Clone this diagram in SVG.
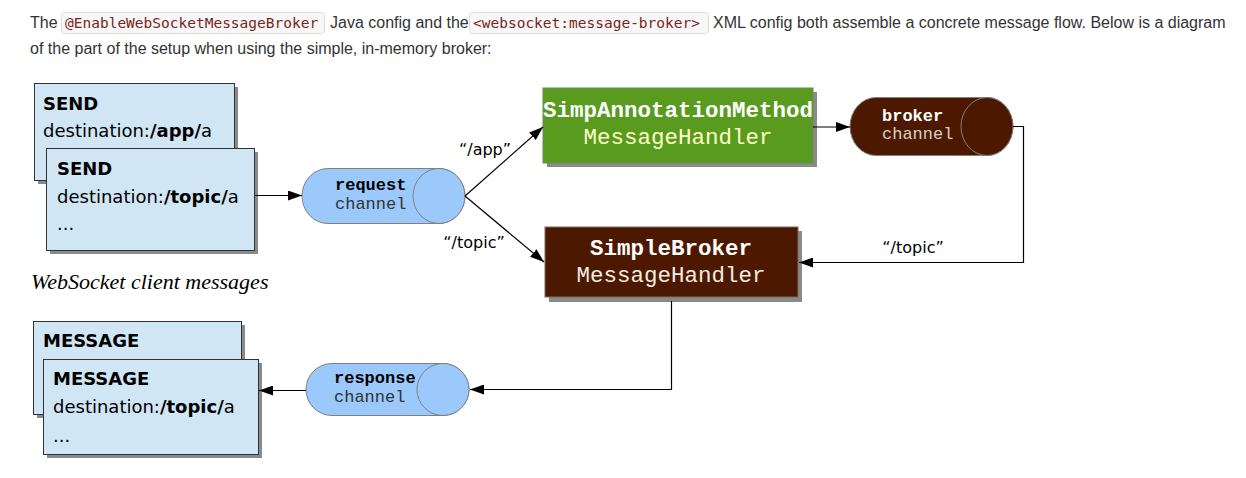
<svg xmlns="http://www.w3.org/2000/svg" width="1246" height="478" viewBox="0 0 1246 478">
<defs>
<marker id="arr" viewBox="0 0 14 10" refX="14" refY="5" markerWidth="14" markerHeight="10" markerUnits="userSpaceOnUse" orient="auto">
<path d="M0,0 L14,5 L0,10 Z" fill="#000"/>
</marker>
</defs>
<style>
.para{font-family:"Liberation Sans",Arial,sans-serif;font-size:16px;fill:#333}
.code{font-family:"DejaVu Sans Mono",monospace;font-size:14.5px;fill:#7a2518}
.codebox{fill:#f7f7f8;stroke:#dddddd;stroke-width:1}
.msg{fill:#d1e6f4;stroke:#333;stroke-width:1}
.shadow{fill:#8a8a8a}
.hand{font-family:"DejaVu Sans",sans-serif;font-size:18px;fill:#000}
.b{font-weight:bold}
.cyl{fill:#9bc9fb;stroke:#808080;stroke-width:1}
.cylb{fill:#4c1900;stroke:#808080;stroke-width:1}
.mono{font-family:"Liberation Mono","Courier New",monospace}
.ch{font-size:17px}
.hd{font-size:22.5px}
.conn{fill:none;stroke:#000;stroke-width:1.2}
.lbl{font-family:"DejaVu Sans",sans-serif;font-size:16px;fill:#000;text-anchor:middle}
</style>

<g id="intro">
<text class="para" x="30" y="28">The</text>
<rect class="codebox" x="61.5" y="12.5" width="263" height="21" rx="3"/>
<text class="code" x="65" y="28">@EnableWebSocketMessageBroker</text>
<text class="para" x="330" y="28">Java config and the</text>
<rect class="codebox" x="469.5" y="12.5" width="239" height="21" rx="3"/>
<text class="code" x="473" y="28">&lt;websocket:message-broker&gt;</text>
<text class="para" x="713" y="28">XML config both assemble a concrete message flow. Below is a diagram</text>
<text class="para" x="30" y="54">of the part of the setup when using the simple, in-memory broker:</text>
</g>

<g id="send-app">
<rect class="shadow" x="38" y="87" width="200" height="97"/>
<rect class="msg" x="34.5" y="83.5" width="200" height="97"/>
<text class="hand b" x="43" y="110">SEND</text>
<text class="hand" x="43" y="137">destination:<tspan class="b">/app/</tspan>a</text>
</g>

<g id="send-topic">
<rect class="shadow" x="50" y="152" width="208" height="102"/>
<rect class="msg" x="46.5" y="148.5" width="208" height="102"/>
<text class="hand b" x="57" y="175">SEND</text>
<text class="hand" x="57" y="203">destination:<tspan class="b">/topic/</tspan>a</text>
<text class="hand" x="57" y="230">...</text>
</g>

<g id="ws-label">
<text x="31" y="289" style="font-family:'Liberation Serif','Times New Roman',serif;font-style:italic;font-size:22px;fill:#000">WebSocket client messages</text>
</g>

<g id="message-back">
<rect class="shadow" x="37" y="325" width="208" height="93"/>
<rect class="msg" x="33.5" y="321.5" width="208" height="93"/>
<text class="hand b" x="43" y="347">MESSAGE</text>
</g>

<g id="message-front">
<rect class="shadow" x="47" y="363" width="215" height="95"/>
<rect class="msg" x="43.5" y="359.5" width="215" height="95"/>
<text class="hand b" x="53" y="385">MESSAGE</text>
<text class="hand" x="53" y="413">destination:<tspan class="b">/topic/</tspan>a</text>
<text class="hand" x="53" y="442">...</text>
</g>

<g id="request-channel">
<path class="cyl" d="M328,168.5 H439 A26,27.5 0 0 1 439,223.5 H328 A26,27.5 0 0 1 328,168.5 Z"/>
<ellipse class="cyl" cx="439" cy="196" rx="26" ry="27.5"/>
<text class="mono ch b" x="335" y="190" fill="#000">request</text>
<text class="mono ch" x="335" y="209" fill="#333">channel</text>
</g>

<g id="simp-annotation">
<rect class="shadow" x="547" y="92" width="270" height="75"/>
<rect x="543" y="88" width="270" height="75" fill="#589b1e" stroke="#6a8a50" stroke-width="1"/>
<text class="mono hd b" x="678" y="117" text-anchor="middle" fill="#fff">SimpAnnotationMethod</text>
<text class="mono hd" x="678" y="144" text-anchor="middle" fill="#ffffc8">MessageHandler</text>
</g>

<g id="broker-channel">
<path class="cylb" d="M876,97.5 H987 A26,29 0 0 1 987,155.5 H876 A26,29 0 0 1 876,97.5 Z"/>
<ellipse class="cylb" cx="987" cy="126.5" rx="26" ry="29"/>
<text class="mono ch b" x="882" y="121" fill="#fff">broker</text>
<text class="mono ch" x="882" y="139" fill="#d9cfc6">channel</text>
</g>

<g id="simple-broker">
<rect class="shadow" x="549" y="231" width="253" height="71"/>
<rect x="545" y="227" width="253" height="70" fill="#4c1900" stroke="#7a6a60" stroke-width="1"/>
<text class="mono hd b" x="671" y="255" text-anchor="middle" fill="#fff">SimpleBroker</text>
<text class="mono hd" x="671" y="282" text-anchor="middle" fill="#f3ece0">MessageHandler</text>
</g>

<g id="response-channel">
<path class="cyl" d="M332,363.5 H443 A26,26 0 0 1 443,415.5 H332 A26,26 0 0 1 332,363.5 Z"/>
<ellipse class="cyl" cx="443" cy="389.5" rx="26" ry="26"/>
<text class="mono ch b" x="334" y="383" fill="#000">response</text>
<text class="mono ch" x="334" y="402" fill="#333">channel</text>
</g>

<g id="connectors">
<path class="conn" d="M255,195.5 H302" marker-end="url(#arr)"/>
<path class="conn" d="M465,196 L543,127" marker-end="url(#arr)"/>
<path class="conn" d="M465,196 L544,262" marker-end="url(#arr)"/>
<path class="conn" d="M813,127 H850" marker-end="url(#arr)"/>
<path class="conn" d="M1013,126.5 H1023.5 V262.5 H799" marker-end="url(#arr)"/>
<path class="conn" d="M671.5,301 V389.5 H470" marker-end="url(#arr)"/>
<path class="conn" d="M306,390.5 H259" marker-end="url(#arr)"/>
<text class="lbl" x="485" y="155">“/app”</text>
<text class="lbl" x="474" y="248">“/topic”</text>
<text class="lbl" x="913" y="253">“/topic”</text>
</g>
</svg>
